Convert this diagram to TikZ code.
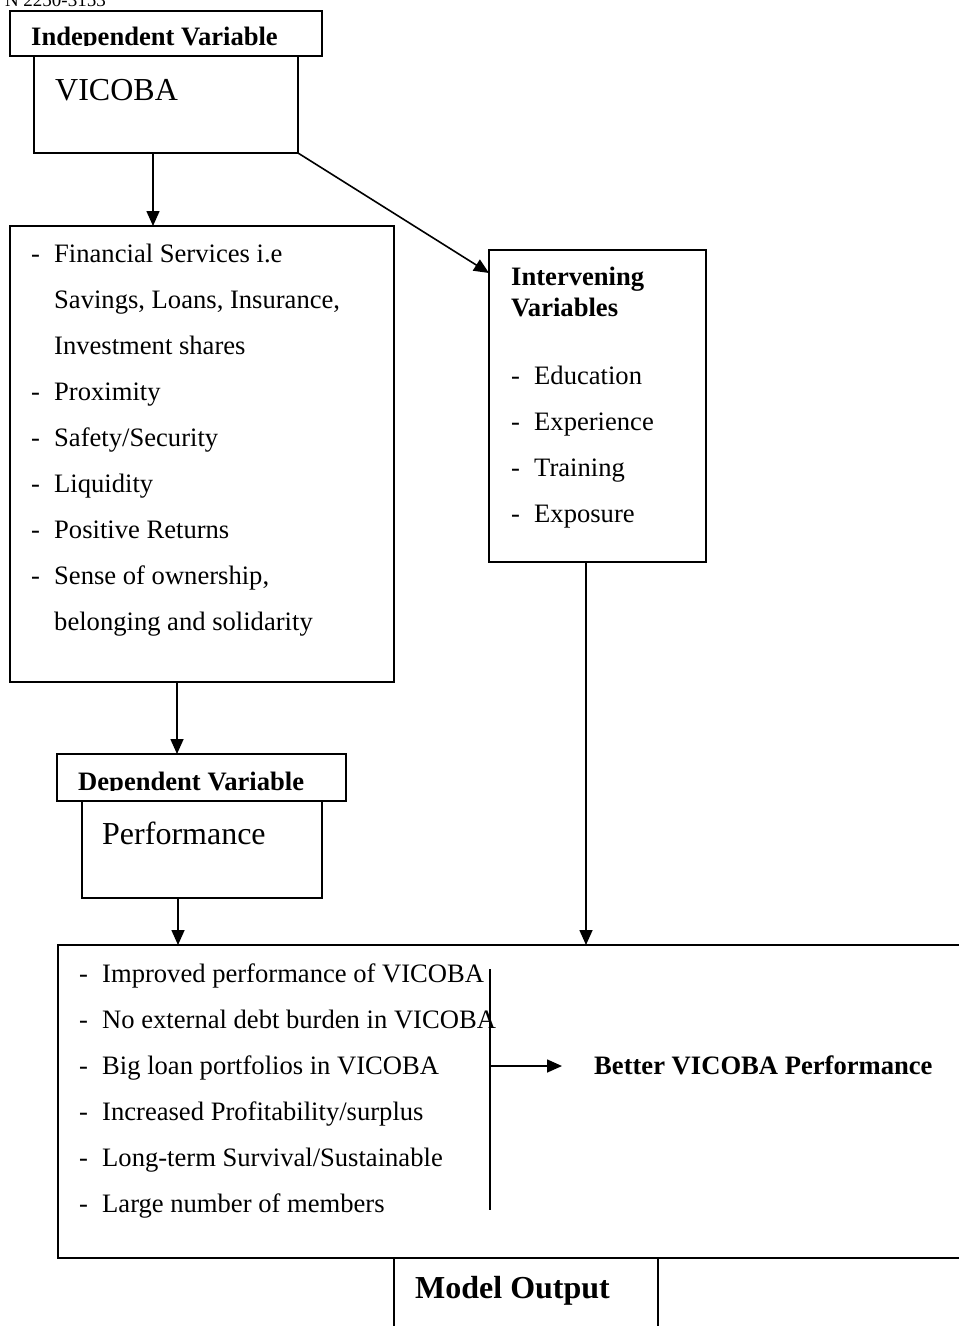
\documentclass[tikz,border=0pt]{standalone}
\usepackage{fontspec}
\setmainfont{Liberation Serif}
\usetikzlibrary{arrows.meta,calc}
\begin{document}
\begin{tikzpicture}[x=1pt,y=-1pt,
  ln/.style={line width=1.6pt},
  box/.style={draw,line width=1.6pt,anchor=north west,inner sep=0pt,outer sep=0pt},
  openbox/.style={draw=none,anchor=north west,inner sep=0pt,outer sep=0pt},
  txt/.style={anchor=base west,inner sep=0pt,font=\fontsize{26.6}{30}\selectfont},
  big/.style={anchor=base west,inner sep=0pt,font=\fontsize{32}{36}\selectfont},
  arr/.style={-{Triangle[length=15pt,width=13pt]},line width=1.6pt}]
\useasboundingbox (0,0) rectangle (959,1326);
\fill[white] (0,0) rectangle (959,1326);
% top cropped header text
\begin{scope}
\clip (0,0) rectangle (200,9);
\node[anchor=base east,inner sep=0pt,font=\fontsize{19}{22}\selectfont] (issn) at (106,6) {N 2250-3153};
\end{scope}
% boxes
\node[box,minimum width=312pt,minimum height=45pt] (ivh) at (10,11) {};
\node[box,minimum width=264pt,minimum height=97pt] (vic) at (34,56) {};
\node[box,minimum width=384pt,minimum height=456pt] (fin) at (10,226) {};
\node[box,minimum width=217pt,minimum height=312pt] (int) at (489,250) {};
\node[box,minimum width=289pt,minimum height=47pt] (dvh) at (57,754) {};
\node[box,minimum width=240pt,minimum height=97pt] (perf) at (82,801) {};
\node[openbox,minimum width=910pt,minimum height=313pt] (out) at (58,945) {};
\draw[ln] (out.north east) -- (out.north west) -- (out.south west) -- (out.south east);
\node[openbox,minimum width=264pt,minimum height=80pt] (mo) at (394,1258) {};
\draw[ln] (mo.south west) -- (mo.north west);
\draw[ln] (mo.south east) -- (mo.north east);
% header texts (clipped at baseline)
\begin{scope}
\clip (10,11) rectangle (322,45.5);
\node[txt] (ivht) at (31,45) {\bfseries Independent Variable};
\end{scope}
\node[big] (vict) at (55,100) {VICOBA};
\begin{scope}
\clip (57,754) rectangle (346,790.5);
\node[txt] (dvht) at (78,790) {\bfseries Dependent Variable};
\end{scope}
\node[big] (perft) at (102,844) {Performance};
% financial list
\foreach \y/\d/\t [count=\i] in {
  262/-/{Financial Services i.e},
  308//{Savings, Loans, Insurance,},
  354//{Investment shares},
  400/-/{Proximity},
  446/-/{Safety/Security},
  492/-/{Liquidity},
  538/-/{Positive Returns},
  584/-/{Sense of ownership,},
  630//{belonging and solidarity}}{
  \node[txt] (fd\i) at (31,\y) {\d};
  \node[txt] (ft\i) at (54,\y) {\t};
}
% intervening
\node[txt] (intt1) at (511,285) {\bfseries Intervening};
\node[txt] (intt2) at (511,316) {\bfseries Variables};
\foreach \y/\t [count=\i] in {384/{Education},430/{Experience},476/{Training},522/{Exposure}}{
  \node[txt] (id\i) at (511,\y) {-};
  \node[txt] (it\i) at (534,\y) {\t};
}
% outputs
\foreach \y/\t [count=\i] in {
  982/{Improved performance of VICOBA},
  1028/{No external debt burden in VICOBA},
  1074/{Big loan portfolios in VICOBA},
  1120/{Increased Profitability/surplus},
  1166/{Long-term Survival/Sustainable},
  1212/{Large number of members}}{
  \node[txt] (od\i) at (79,\y) {-};
  \node[txt] (ot\i) at (102,\y) {\t};
}
\coordinate (bt) at (490,969);
\coordinate (bb) at (490,1210);
\draw[ln] (bt) -- (bb);
\node[txt] (better) at (594,1074) {\bfseries Better VICOBA Performance};
\coordinate (am) at (490,1066);
\coordinate (ae) at (562,1066);
\draw[arr] (am) -- (ae);
\node[big,font=\fontsize{32}{36}\selectfont\bfseries] (mot) at (415,1298) {Model Output};
% connectors
\draw[arr] ([xshift=119pt]vic.south west) -- ([xshift=143pt]fin.north west);
\draw[arr] (vic.south east) -- ([yshift=-23pt]int.north west);
\draw[arr] ([xshift=167pt]fin.south west) -- ([xshift=120pt]dvh.north west);
\draw[arr] ([xshift=96pt]perf.south west) -- ([xshift=120pt]out.north west);
\draw[arr] ([xshift=97pt]int.south west) -- ([xshift=528pt]out.north west);
\end{tikzpicture}
\end{document}
